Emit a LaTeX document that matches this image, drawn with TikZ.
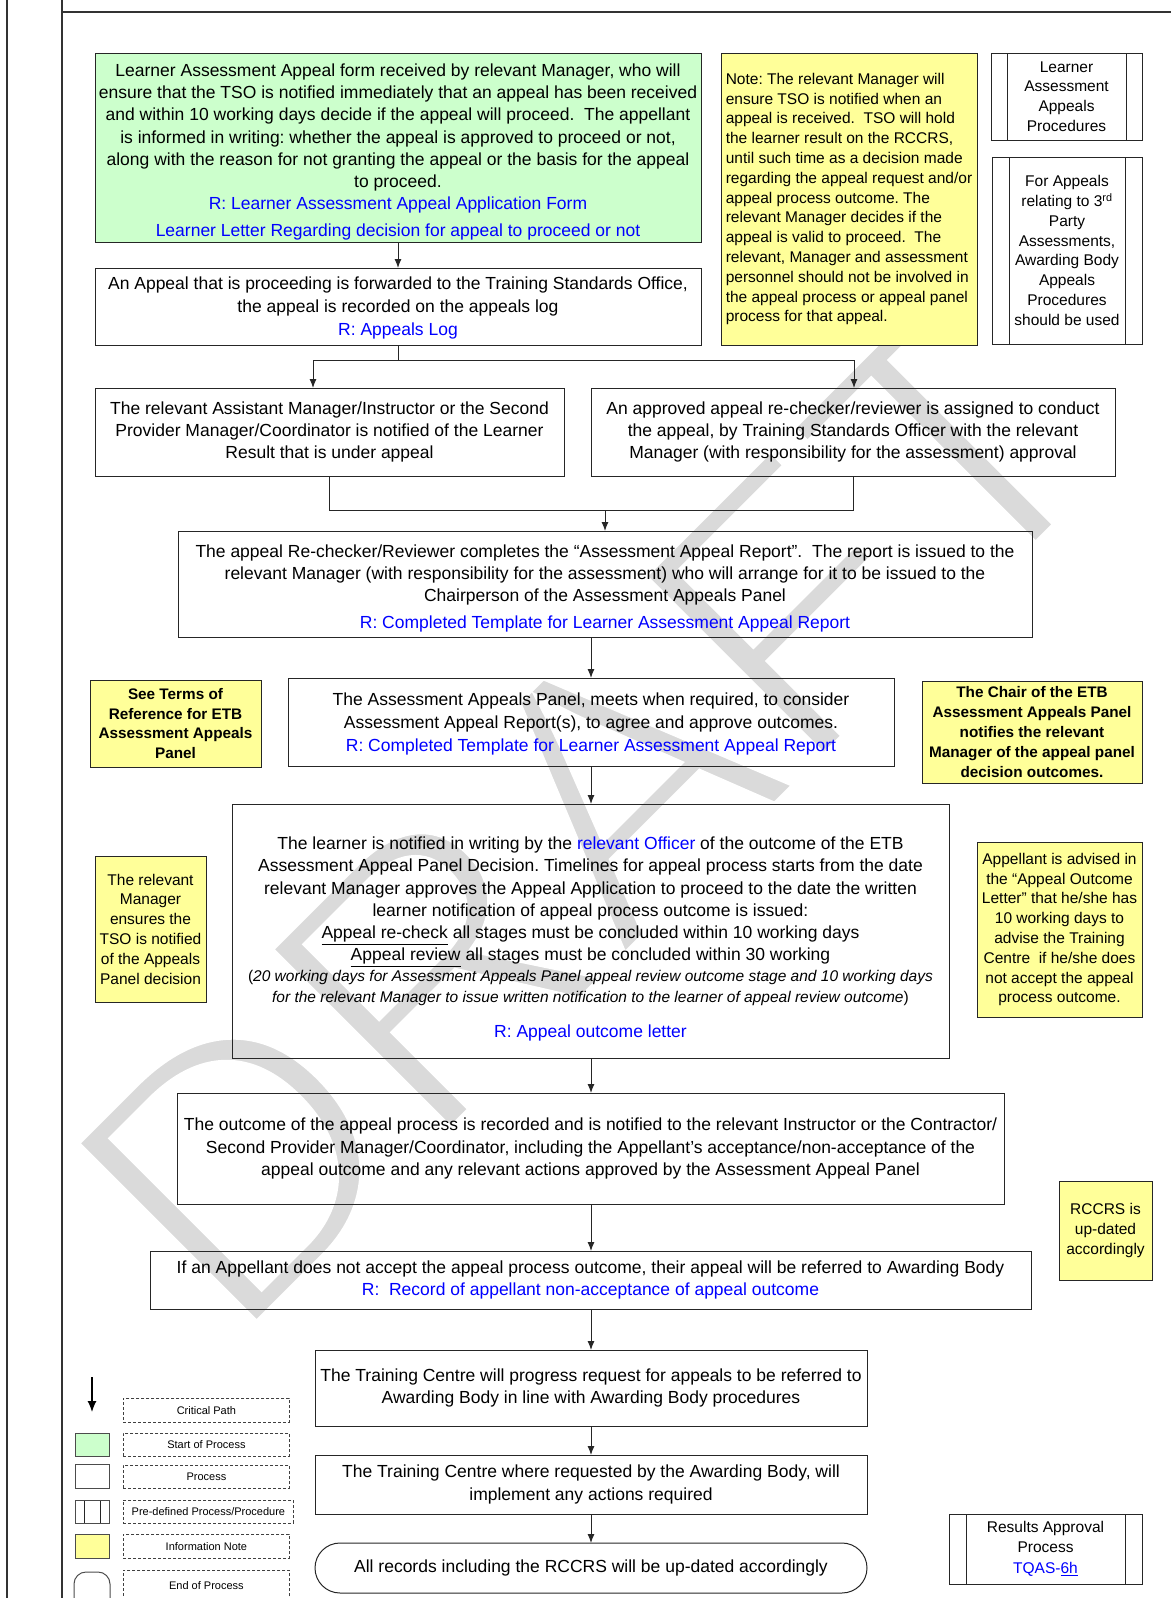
\documentclass[tikz,border=0pt]{standalone}
\usepackage{fontspec}
\setmainfont{Liberation Sans}
\usetikzlibrary{arrows.meta}
\definecolor{startgreen}{HTML}{CCFFCC}
\definecolor{noteyellow}{HTML}{FFFF99}
\definecolor{linkblue}{HTML}{0000FF}
\definecolor{wmgray}{HTML}{DADADA}
\definecolor{edge}{HTML}{262626}
\newcommand\mainfs{\fontsize{17.5}{22.3}\selectfont}
\newcommand\notefs{\fontsize{15.5}{19.8}\selectfont}
\newcommand\notebf{\fontsize{15.3}{19.8}\selectfont\bfseries}
\newcommand\legfs{\fontsize{11}{13}\selectfont}
\newcommand\lnk[1]{\textcolor{linkblue}{#1}}
\newcommand\dnrule[1]{\rule{0pt}{#1}}
\begin{document}
\frenchspacing
\begin{tikzpicture}[x=1pt,y=-1pt,
  base/.style={draw=edge, line width=1pt, inner sep=0pt, outer sep=0pt, anchor=north west, align=center, font=\mainfs},
  startbox/.style={base, fill=startgreen},
  procbox/.style={base},
  notebox/.style={base, fill=noteyellow, font=\notefs},
  noteboldbox/.style={base, fill=noteyellow, font=\notebf},
  predef/.style={base, font=\notefs, path picture={\draw[line width=1pt, edge]
     ([xshift=#1]path picture bounding box.north west) -- ([xshift=#1]path picture bounding box.south west)
     ([xshift=-#1]path picture bounding box.north east) -- ([xshift=-#1]path picture bounding box.south east);}},
  endbox/.style={base, rounded corners=25pt},
  flow/.style={-{Latex[length=9pt,width=7pt]}, line width=1pt, edge},
  joint/.style={line width=1pt, edge},
  legbox/.style={draw=black!75, dashed, dash pattern=on 3pt off 2pt, line width=0.8pt, inner sep=0pt, anchor=north west, font=\legfs},
  frame/.style={line width=1.5pt, black!80}
]
\useasboundingbox (0,0) rectangle (1171,1598);
% watermark
\node[text=wmgray, rotate=45, inner sep=0pt, font=\fontsize{380}{380}\selectfont] (wm) at (590,810)
 {\special{pdf:literal 2 Tr 13 w 1 1 1 RG}DRAFT\special{pdf:literal 0 Tr 1 w}};
% frame
\draw[frame] (7,0) -- (7,1598);
\draw[frame] (62,0) -- (62,1598);
\draw[frame] (62,12) -- (1171,12);

% top row
\node[startbox, minimum width=606pt, minimum height=189pt] (start) at (95,53)
 {\dnrule{21pt}Learner Assessment Appeal form received by relevant Manager, who will\\
  ensure that the TSO is notified immediately that an appeal has been received\\
  and within 10 working days decide if the appeal will proceed.\ \ The appellant\\
  is informed in writing: whether the appeal is approved to proceed or not,\\
  along with the reason for not granting the appeal or the basis for the appeal\\
  to proceed.\\
  \lnk{R: Learner Assessment Appeal Application Form}\\[4pt]
  \lnk{Learner Letter Regarding decision for appeal to proceed or not}};
\node[procbox, minimum width=606pt, minimum height=77pt] (fwd) at (95,268)
 {\dnrule{16pt}An Appeal that is proceeding is forwarded to the Training Standards Office,\\
  the appeal is recorded on the appeals log\\[1pt]
  \lnk{R: Appeals Log}};
\node[notebox, align=left, minimum width=256pt, minimum height=292pt] (note) at (721,53)
 {Note: The relevant Manager will\\
  ensure TSO is notified when an\\
  appeal is received.\ \ TSO will hold\\
  the learner result on the RCCRS,\\
  until such time as a decision made\\
  regarding the appeal request and/or\\
  appeal process outcome. The\\
  relevant Manager decides if the\\
  appeal is valid to proceed.\ \ The\\
  relevant, Manager and assessment\\
  personnel should not be involved in\\
  the appeal process or appeal panel\\
  process for that appeal.};
\node[predef=16pt, minimum width=151pt, minimum height=87pt] (lap) at (991,53)
 {Learner\\Assessment\\Appeals\\Procedures};
\node[predef=17pt, minimum width=150pt, minimum height=187pt] (tpa) at (992,157)
 {For Appeals\\relating to 3\textsuperscript{rd}\\Party\\Assessments,\\Awarding Body\\Appeals\\Procedures\\should be used};

% row 3
\node[procbox, minimum width=469pt, minimum height=88pt] (notify) at (95,388)
 {The relevant Assistant Manager/Instructor or the Second\\
  Provider Manager/Coordinator is notified of the Learner\\
  Result that is under appeal};
\node[procbox, minimum width=524pt, minimum height=88pt] (assign) at (591,388)
 {An approved appeal re-checker/reviewer is assigned to conduct\\
  the appeal, by Training Standards Officer with the relevant\\
  Manager (with responsibility for the assessment) approval};

\node[procbox, minimum width=854pt, minimum height=106pt] (report) at (178,531)
 {\dnrule{21pt}The appeal Re-checker/Reviewer completes the “Assessment Appeal Report”.\ \ The report is issued to the\\
  relevant Manager (with responsibility for the assessment) who will arrange for it to be issued to the\\
  Chairperson of the Assessment Appeals Panel\\[4pt]
  \lnk{R: Completed Template for Learner Assessment Appeal Report}};

\node[procbox, minimum width=606pt, minimum height=88pt] (panel) at (288,678)
 {\dnrule{17pt}The Assessment Appeals Panel, meets when required, to consider\\[1pt]
  Assessment Appeal Report(s), to agree and approve outcomes.\\[1pt]
  \lnk{R: Completed Template for Learner Assessment Appeal Report}};
\node[noteboldbox, minimum width=171pt, minimum height=87pt] (terms) at (90,680)
 {See Terms of\\Reference for ETB\\Assessment Appeals\\Panel};
\node[noteboldbox, minimum width=220pt, minimum height=102pt] (chair) at (922,681)
 {The Chair of the ETB\\Assessment Appeals Panel\\notifies the relevant\\Manager of the appeal panel\\decision outcomes.};

\node[procbox, minimum width=717pt, minimum height=254pt] (learner) at (232,804)
 {\dnrule{29pt}The learner is notified in writing by the \lnk{relevant Officer} of the outcome of the ETB\\
  Assessment Appeal Panel Decision. Timelines for appeal process starts from the date\\
  relevant Manager approves the Appeal Application to proceed to the date the written\\
  learner notification of appeal process outcome is issued:\\
  \underline{Appeal re-check} all stages must be concluded within 10 working days\\
  \underline{Appeal review} all stages must be concluded within 30 working\\[-2pt]
  {\fontsize{15.5}{21}\selectfont(\textit{20 working days for Assessment Appeals Panel appeal review outcome stage and 10 working days}}\\[-1pt]
  {\fontsize{15.5}{21}\selectfont\textit{for the relevant Manager to issue written notification to the learner of appeal review outcome})}\\[13pt]
  \lnk{R: Appeal outcome letter}};
\node[notebox, minimum width=111pt, minimum height=146pt] (tsonote) at (95,856)
 {The relevant\\Manager\\ensures the\\TSO is notified\\of the Appeals\\Panel decision};
\node[notebox, minimum width=165pt, minimum height=175pt] (advise) at (977,842)
 {Appellant is advised in\\the “Appeal Outcome\\Letter” that he/she has\\10 working days to\\advise the Training\\Centre\ \ if he/she does\\not accept the appeal\\process outcome.};

\node[procbox, minimum width=827pt, minimum height=111pt] (recorded) at (177,1093)
 {The outcome of the appeal process is recorded and is notified to the relevant Instructor or the Contractor/\\
  Second Provider Manager/Coordinator, including the Appellant’s acceptance/non-acceptance of the\\
  appeal outcome and any relevant actions approved by the Assessment Appeal Panel};
\node[notebox, minimum width=93pt, minimum height=99pt] (rccrs) at (1059,1181)
 {RCCRS is\\up-dated\\accordingly};

\node[procbox, minimum width=881pt, minimum height=58pt] (refer) at (150,1251)
 {If an Appellant does not accept the appeal process outcome, their appeal will be referred to Awarding Body\\
  \lnk{R:\ \ Record of appellant non-acceptance of appeal outcome}};
\node[procbox, minimum width=552pt, minimum height=76pt] (progress) at (315,1350)
 {The Training Centre will progress request for appeals to be referred to\\
  Awarding Body in line with Awarding Body procedures};
\node[procbox, minimum width=552pt, minimum height=59pt] (implement) at (315,1455)
 {The Training Centre where requested by the Awarding Body, will\\
  implement any actions required};
\node[endbox, minimum width=552pt, minimum height=50pt] (finish) at (315,1543)
 {All records including the RCCRS will be up-dated accordingly};
\node[predef=17pt, minimum width=193pt, minimum height=70pt] (results) at (949,1514)
 {Results Approval\\Process\\[1pt]\lnk{TQAS-\underline{6h}}};

% connectors
\coordinate (j1) at (398,360);
\coordinate (jl) at (313,360);
\coordinate (jr) at (854,360);
\draw[joint] (fwd.south -| j1) -- (j1);
\draw[joint] (jl) -- (jr);
\draw[flow] (start.south -| j1) -- (fwd.north -| j1);
\draw[flow] (jl) -- (jl |- notify.north);
\draw[flow] (jr) -- (jr |- assign.north);
\coordinate (m) at (605,510);
\draw[joint] (notify.south) -- (notify.south |- m) -- (assign.south |- m) -- (assign.south);
\draw[flow] (m) -- (m |- report.north);
\draw[flow] (panel.north |- report.south) -- (panel.north);
\draw[flow] (panel.south) -- (learner.north -| panel.south);
\draw[flow] (learner.south -| panel.south) -- (recorded.north -| panel.south);
\draw[flow] (recorded.south -| panel.south) -- (refer.north -| panel.south);
\draw[flow] (refer.south -| panel.south) -- (progress.north -| panel.south);
\draw[flow] (progress.south) -- (implement.north);
\draw[flow] (implement.south) -- (finish.north);

% legend
\coordinate (la1) at (92,1377);
\coordinate (la2) at (92,1412);
\draw[-{Latex[length=11pt,width=9pt]}, line width=1.2pt, black] (la1) -- (la2);
\node[legbox, minimum width=166pt, minimum height=24pt] (lg1) at (123,1398) {Critical Path};
\node[legbox, minimum width=166pt, minimum height=23pt] (lg2) at (123,1433) {Start of Process};
\node[legbox, minimum width=166pt, minimum height=23pt] (lg3) at (123,1465) {Process};
\node[legbox, minimum width=170pt, minimum height=23pt] (lg4) at (123,1500) {Pre-defined Process/Procedure};
\node[legbox, minimum width=166pt, minimum height=24pt] (lg5) at (123,1534) {Information Note};
\node[legbox, minimum width=166pt, minimum height=30pt] (lg6) at (123,1570) {End of Process};
\node[base, fill=startgreen, minimum width=34pt, minimum height=23pt, draw=black!70] (ls1) at (75,1433) {};
\node[base, minimum width=34pt, minimum height=24pt, draw=black!70] (ls2) at (75,1464) {};
\node[predef=9pt, minimum width=34pt, minimum height=23pt, draw=black!70] (ls3) at (75,1500) {};
\node[base, fill=noteyellow, minimum width=34pt, minimum height=24pt, draw=black!70] (ls4) at (75,1534) {};
\node[base, rounded corners=12pt, minimum width=36pt, minimum height=40pt, draw=black!70] (ls5) at (74,1572) {};
\end{tikzpicture}
\end{document}
